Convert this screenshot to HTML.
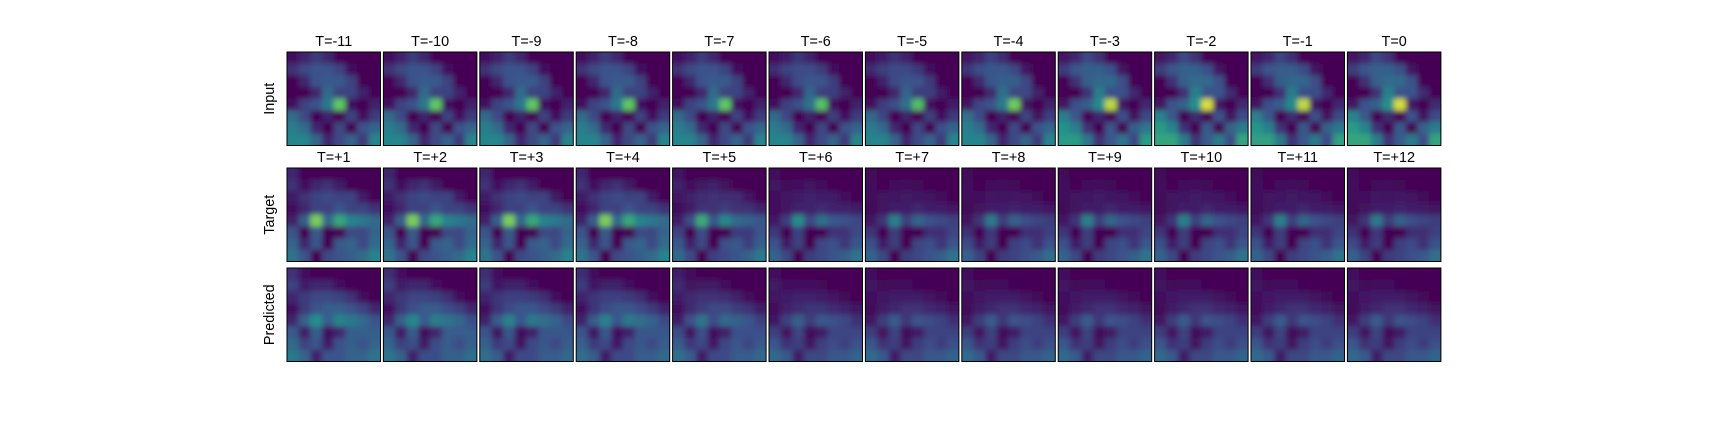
<!DOCTYPE html>
<html><head><meta charset="utf-8"><style>
html,body{margin:0;padding:0;background:#fff;}
svg{display:block;font-family:"Liberation Sans","DejaVu Sans",sans-serif;}
</style></head><body>
<svg id="fig" width="1728" height="432" viewBox="0 0 1728 432" xmlns="http://www.w3.org/2000/svg">
<defs><filter id="bl" x="-0.2" y="-0.2" width="1.4" height="1.4"><feGaussianBlur stdDeviation="2.6"/></filter></defs>
</svg>
<script>
const colLabelsTop=["T=-11","T=-10","T=-9","T=-8","T=-7","T=-6","T=-5","T=-4","T=-3","T=-2","T=-1","T=0"];
const colLabelsBot=["T=+1","T=+2","T=+3","T=+4","T=+5","T=+6","T=+7","T=+8","T=+9","T=+10","T=+11","T=+12"];
const rowLabels=["Input","Target","Predicted"];
const inputTemplate=[
[.05,.1,.18,.12,0,0,0,0],
[.15,.22,.25,.25,.2,.05,0,0],
[0,.12,.25,.28,.28,.2,0,0],
[0,0,.12,.35,.2,.2,.1,0],
[.05,.2,.25,.4,.75,.05,0,.1],
[.35,.22,0,.1,0,.2,.05,.18],
[.42,.35,.12,0,.22,0,.25,.32],
[.45,.45,.32,.12,.22,.32,.18,.45]];
const targetTemplate=[
[.12,0,0,0,0,0,0,0],
[.15,.05,.12,.15,.08,0,0,0],
[.08,.15,.2,.22,.2,.2,.08,0],
[.05,.12,.2,.2,.25,.2,.2,.15],
[.1,.3,.8,.35,.6,.45,.4,.35],
[.25,0,.28,0,0,.22,.22,.32],
[.32,.12,.25,0,.28,.32,.22,.35],
[.38,.25,0,.22,.25,.3,.35,.45]];
const predTemplate=[
[.15,.05,0,0,0,0,0,0],
[.2,.08,.12,.12,.05,0,0,0],
[.12,.18,.22,.22,.2,.15,.05,0],
[.05,.18,.25,.3,.3,.25,.2,.12],
[.12,.32,.5,.3,.45,.4,.35,.25],
[.28,.08,.3,.05,.12,.3,.3,.3],
[.34,.2,.25,.08,.25,.3,.25,.32],
[.4,.32,.1,.25,.25,.32,.32,.38]];
const inputTop=[1,1,1,1,1,.9,.85,1.1,1.2,1.2,1.15,1.2];
const inputBot=[1,1,1,1,1,1,1,1,1.2,1.3,1.25,1.3];
const targetTop=[1,1,1,1,.6,.3,.15,.15,.15,.15,.15,.15];
const targetBot=[1,1,1,1,.9,.85,.85,.8,.85,.85,.85,.8];
const predTop=[1,.95,.9,.9,.6,.3,.2,.2,.2,.2,.2,.2];
const predBot=[1,.95,.9,.9,.9,.85,.85,.85,.85,.85,.85,.85];

const NS="http://www.w3.org/2000/svg";
const svg=document.getElementById('fig');
const defs=svg.querySelector('defs');
const x0=287,pitch=96.4,w=93.5,rowY=[52,168,268],h=93.5;
const stops=[[68,1,84],[59,82,139],[33,145,140],[94,201,98],[253,231,37]];
function viridis(v){v=Math.max(0,Math.min(1,v));const s=v*4,i=Math.min(3,Math.floor(s)),f=s-i;
const a=stops[i],b=stops[i+1];return `rgb(${a.map((c,k)=>Math.round(c+(b[k]-c)*f)).join(',')})`;}
function mk(t,attrs,parent){const e=document.createElementNS(NS,t);for(const k in attrs)e.setAttribute(k,attrs[k]);parent.appendChild(e);return e;}
const rows=[[inputTemplate,inputTop,inputBot],[targetTemplate,targetTop,targetBot],[predTemplate,predTop,predBot]];
rows.forEach((r,ri)=>{
  const [tpl,top,bot]=r;
  const y=rowY[ri];
  const lab=mk('text',{x:0,y:0,'font-size':14.4,'text-anchor':'middle',transform:`translate(274,${y+h/2}) rotate(-90)`},svg);
  lab.textContent=rowLabels[ri];
  
  
  for(let c=0;c<12;c++){
    const x=x0+c*pitch;
    if(ri<2){const t=mk('text',{x:x+w/2,y:y-6,'font-size':14.4,'text-anchor':'middle'},svg);
      t.textContent=(ri==0?colLabelsTop:colLabelsBot)[c];
      
      }
    const cid='c'+ri+'_'+c;
    const cp=mk('clipPath',{id:cid},defs);
    mk('rect',{x:x,y:y,width:w,height:h},cp);
    const outer=mk('g',{'clip-path':`url(#${cid})`},svg);
    
    
    const g=mk('g',{filter:'url(#bl)'},outer);
    const n=8,cw=w/n,chh=h/n;
    for(let i=-1;i<=n;i++)for(let j=-1;j<=n;j++){
      const ii=Math.max(0,Math.min(n-1,i)),jj=Math.max(0,Math.min(n-1,j));
      const wt=ii/(n-1);const sc=top[c]*(1-wt)+bot[c]*wt;
      const cell=mk('rect',{x:x+j*cw,y:y+i*chh,width:cw+0.6,height:chh+0.6,fill:viridis(tpl[ii][jj]*sc)},g);
      
      
    }
    const fr=mk('rect',{x:x,y:y,width:w,height:h,fill:'none',stroke:'#000','stroke-width':1},svg);
    
    
  }
});
</script>
</body></html>
